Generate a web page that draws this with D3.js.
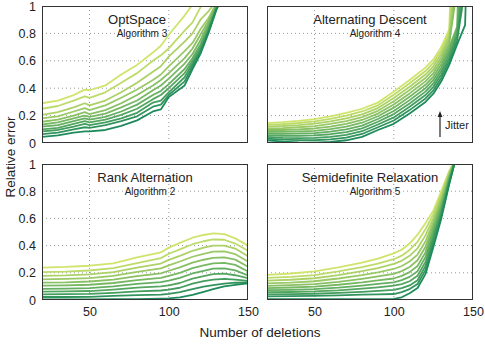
<!DOCTYPE html>
<html>
<head>
<meta charset="utf-8">
<script src="https://cdn.jsdelivr.net/npm/d3@7"></script>
<style>
  body { margin: 0; background: #fff; }
  text { font-family: "Liberation Sans", Arial, sans-serif; fill: #222; }
</style>
</head>
<body>
<svg id="chart" width="485" height="344"></svg>
<script>
// =================================== DATA ===================================

const xTicks = [50, 100, 150]
const yTicks = [0, 0.2, 0.4, 0.6, 0.8, 1]

// OptSpace (Algorithm 3) - one row per jitter level, lowest jitter last
const optXs = [20, 30, 40, 47, 50, 60, 70, 80, 90, 95, 100, 110, 115, 120, 125, 130, 140]
const optSeries = [
  [.290, .310, .350, .390, .385, .420, .500, .570, .660, .710, .790, .930, 1.01, 1.10, 1.20, 1.30, 1.50],
  [.250, .270, .310, .340, .330, .370, .440, .510, .600, .640, .690, .820, .880, .990, 1.08, 1.18, 1.40],
  [.205, .225, .260, .290, .275, .310, .370, .440, .520, .560, .630, .740, .800, .900, .960, 1.04, 1.30],
  [.180, .195, .230, .255, .240, .275, .330, .390, .460, .500, .560, .670, .730, .830, .910, 1.02, 1.25],
  [.155, .170, .200, .225, .210, .240, .290, .350, .420, .460, .510, .620, .690, .790, .890, 1.01, 1.25],
  [.135, .150, .180, .200, .190, .215, .260, .310, .385, .420, .470, .580, .650, .750, .870, 1.00, 1.20],
  [.120, .130, .160, .180, .170, .190, .230, .280, .350, .380, .430, .540, .620, .720, .850, .990, 1.20],
  [.100, .110, .140, .160, .150, .170, .205, .250, .320, .350, .400, .510, .600, .700, .830, .990, 1.20],
  [.085, .095, .120, .140, .130, .150, .180, .220, .295, .310, .370, .480, .580, .680, .820, .980, 1.20],
  [.065, .075, .100, .115, .110, .130, .160, .195, .265, .280, .350, .450, .560, .670, .810, .980, 1.20],
  [.045, .055, .075, .085, .085, .095, .125, .165, .230, .245, .335, .420, .540, .650, .800, .970, 1.20]
]

// Alternating Descent (Algorithm 4), each curve leaves the top at its own deletion count
const adXs = [20, 30, 40, 50, 60, 70, 80, 90, 100, 110, 120, 125, 130, 135, 140, 145]
const adSeries = [
  [.145, .152, .162, .175, .195, .220, .250, .295, .375, .460, .550, .610, .700, .830],
  [.132, .138, .146, .158, .176, .200, .230, .275, .352, .436, .525, .585, .675, .804],
  [.120, .124, .131, .141, .158, .180, .209, .255, .328, .411, .500, .560, .650, .778],
  [.107, .109, .115, .123, .139, .160, .189, .235, .305, .387, .475, .535, .625, .752],
  [.095, .095, .099, .106, .120, .140, .168, .215, .281, .362, .450, .510, .600, .726],
  [.082, .081, .084, .089, .102, .120, .148, .195, .258, .338, .425, .485, .575, .700, .850],
  [.070, .067, .068, .072, .083, .100, .127, .175, .234, .313, .400, .460, .550, .674, .830],
  [.057, .053, .052, .055, .064, .080, .107, .155, .211, .289, .375, .435, .525, .648, .800],
  [.045, .038, .036, .037, .045, .060, .086, .135, .187, .264, .350, .410, .500, .622, .780],
  [.032, .024, .021, .020, .027, .040, .066, .115, .164, .240, .325, .385, .475, .596, .750],
  [.020, .010, .005, .003, .008, .020, .045, .095, .140, .215, .300, .360, .450, .570, .720, .860]
]
const adExit = [135.8, 136.8, 137.8, 138.8, 139.6, 140.6, 141.6, 142.6, 143.6, 144.6, 145.6]

// Rank Alternation (Algorithm 2)
const raXs = [20, 35, 50, 65, 80, 95, 100, 107, 115, 122, 128, 135, 142, 150]
const raSeries = [
  [.238, .243, .252, .270, .313, .350, .385, .420, .458, .478, .490, .485, .453, .400],
  [.205, .208, .217, .235, .272, .308, .340, .372, .410, .432, .445, .443, .415, .362],
  [.178, .181, .188, .205, .238, .268, .295, .325, .362, .385, .400, .400, .378, .322],
  [.152, .155, .161, .177, .206, .232, .255, .283, .318, .340, .355, .357, .337, .283],
  [.128, .130, .136, .150, .175, .196, .215, .240, .275, .296, .310, .313, .297, .245],
  [.105, .107, .112, .125, .146, .163, .178, .200, .235, .255, .270, .273, .258, .210],
  [.082, .084, .088, .100, .118, .131, .142, .162, .195, .215, .230, .233, .218, .180],
  [.062, .063, .066, .077, .091, .100, .108, .125, .157, .176, .190, .194, .182, .160],
  [.042, .043, .045, .053, .063, .070, .076, .090, .120, .138, .150, .156, .150, .140],
  [.022, .022, .023, .030, .036, .040, .045, .058, .080, .098, .110, .120, .127, .130],
  [.005, .005, .005, .006, .007, .010, .012, .020, .037, .060, .080, .100, .112, .122]
]

// Semidefinite Relaxation (Algorithm 5)
const sdrXs = [20, 35, 50, 65, 80, 90, 100, 105, 110, 115, 120, 125, 130, 135, 140]
const sdrSeries = [
  [.184, .195, .210, .240, .275, .305, .343, .370, .415, .480, .565, .657, .800, .950, 1.06],
  [.162, .170, .183, .210, .242, .268, .300, .326, .368, .428, .520, .630, .780, .940, 1.06],
  [.142, .149, .160, .183, .212, .235, .265, .288, .325, .380, .475, .600, .760, .930, 1.06],
  [.122, .128, .138, .158, .183, .203, .228, .250, .283, .334, .430, .575, .740, .920, 1.07],
  [.104, .109, .117, .134, .156, .173, .192, .212, .243, .292, .390, .550, .720, .910, 1.07],
  [.088, .092, .098, .112, .130, .145, .158, .177, .205, .250, .350, .525, .700, .900, 1.07],
  [.072, .075, .080, .091, .106, .118, .130, .146, .170, .212, .315, .500, .680, .890, 1.07],
  [.057, .059, .063, .071, .083, .093, .105, .117, .138, .178, .280, .475, .660, .880, 1.08],
  [.042, .043, .046, .052, .060, .067, .074, .087, .107, .145, .250, .450, .640, .870, 1.08],
  [.027, .028, .030, .034, .039, .042, .044, .058, .080, .118, .220, .420, .620, .860, 1.08],
  [.007, .007, .007, .007, .007, .007, .008, .020, .050, .088, .190, .390, .600, .850, 1.08]
]

const panels = [
  { title: 'OptSpace', sub: 'Algorithm 3', xs: optXs, series: optSeries },
  { title: 'Alternating Descent', sub: 'Algorithm 4', xs: adXs, series: adSeries, exit: adExit },
  { title: 'Rank Alternation', sub: 'Algorithm 2', xs: raXs, series: raSeries },
  { title: 'Semidefinite Relaxation', sub: 'Algorithm 5', xs: sdrXs, series: sdrSeries }
]

// =================================== LAYOUT ===================================

const boxes = [
  { x: 42, y: 6, w: 206, h: 137, titleDx: -8, left: true, bottom: false },
  { x: 267, y: 6, w: 206, h: 137, titleDx: 0, left: false, bottom: false },
  { x: 42, y: 164, w: 206, h: 136, titleDx: 0, left: true, bottom: true },
  { x: 267, y: 164, w: 206, h: 136, titleDx: 0, left: false, bottom: true }
]

const color = d3.interpolateRgb('#cfe46a', '#1f8b5c')
const svg = d3.select('#chart')
const defs = svg.append('defs')

defs.append('marker')
  .attr('id', 'arrow')
  .attr('viewBox', '0 0 10 10')
  .attr('refX', 5).attr('refY', 5)
  .attr('markerWidth', 5).attr('markerHeight', 7)
  .attr('orient', 'auto')
  .append('path')
  .attr('d', 'M0,1 L10,5 L0,9 Z')
  .attr('fill', '#222')

panels.forEach(function (p, i) {
  const b = boxes[i]
  const x = d3.scaleLinear().domain([20, 150]).range([0, b.w])
  const y = d3.scaleLinear().domain([0, 1]).range([b.h, 0])
  const g = svg.append('g').attr('transform', `translate(${b.x},${b.y})`)

  defs.append('clipPath').attr('id', 'clip' + i)
    .append('rect').attr('width', b.w).attr('height', b.h)

  // grid
  g.selectAll('.vg').data(xTicks.filter(t => t < 150)).enter().append('line')
    .attr('x1', d => x(d)).attr('x2', d => x(d))
    .attr('y1', 0).attr('y2', b.h)
    .attr('stroke', '#999').attr('stroke-width', 1)
    .attr('stroke-dasharray', '1,3')
  g.selectAll('.hg').data(yTicks.filter(t => t > 0 && t < 1)).enter().append('line')
    .attr('x1', 0).attr('x2', b.w)
    .attr('y1', d => y(d)).attr('y2', d => y(d))
    .attr('stroke', '#999').attr('stroke-width', 1)
    .attr('stroke-dasharray', '1,3')

  // lines
  const line = d3.line().x(d => x(d[0])).y(d => y(d[1]))
  const lines = p.series.map(function (vals, k) {
    const pts = vals.map((v, j) => [p.xs[j], v])
    if (p.exit) pts.push([p.exit[k], 1.1])
    return pts
  })
  g.append('g').attr('clip-path', `url(#clip${i})`)
    .selectAll('path').data(lines).enter().append('path')
    .attr('d', line)
    .attr('fill', 'none')
    .attr('stroke', (d, k) => color(k / (lines.length - 1)))
    .attr('stroke-width', 1.8)
    .attr('stroke-linejoin', 'round')

  // frame
  g.append('rect')
    .attr('x', 0.5).attr('y', 0.5)
    .attr('width', b.w - 1).attr('height', b.h - 1)
    .attr('fill', 'none').attr('stroke', '#333').attr('stroke-width', 1)

  // axes
  if (b.left) {
    const ay = g.append('g').call(
      d3.axisLeft(y).tickValues(yTicks).tickSize(0).tickPadding(6).tickFormat(d3.format('~g'))
    )
    ay.select('.domain').remove()
    ay.selectAll('text').style('font-size', '12.5px').attr('fill', '#222')
  }
  if (b.bottom) {
    const ax = g.append('g').attr('transform', `translate(0,${b.h})`).call(
      d3.axisBottom(x).tickValues(xTicks).tickSize(0).tickPadding(7)
    )
    ax.select('.domain').remove()
    ax.selectAll('text').style('font-size', '12.5px').attr('fill', '#222')
  }

  // titles
  g.append('text')
    .attr('x', b.w / 2 + b.titleDx).attr('y', 18)
    .attr('text-anchor', 'middle')
    .style('font-size', '13px')
    .text(p.title)
  g.append('text')
    .attr('x', b.w / 2 + b.titleDx + 5).attr('y', 31)
    .attr('text-anchor', 'middle')
    .style('font-size', '10px')
    .text(p.sub)
})

// =================================== JITTER ARROW ===================================

svg.append('line')
  .attr('x1', 440).attr('x2', 440)
  .attr('y1', 137).attr('y2', 114)
  .attr('stroke', '#222').attr('stroke-width', 1.2)
  .attr('marker-end', 'url(#arrow)')
svg.append('text')
  .attr('x', 445).attr('y', 129)
  .style('font-size', '11px')
  .text('Jitter')

// =================================== AXIS LABELS ===================================

svg.append('text')
  .attr('transform', 'translate(15,157) rotate(-90)')
  .attr('text-anchor', 'middle')
  .style('font-size', '13.5px')
  .text('Relative error')

svg.append('text')
  .attr('x', 260).attr('y', 337)
  .attr('text-anchor', 'middle')
  .style('font-size', '13.5px')
  .text('Number of deletions')
</script>
</body>
</html>
